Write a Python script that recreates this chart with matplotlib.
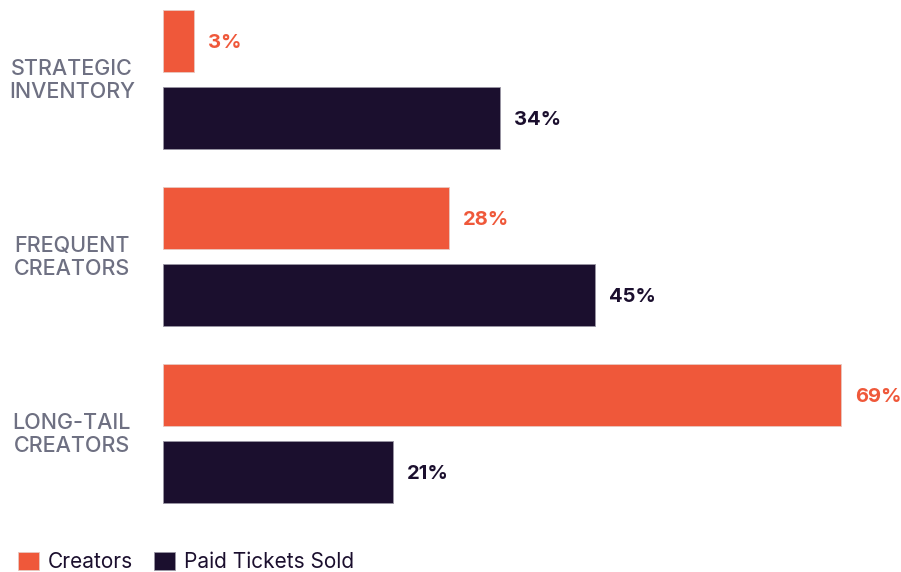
import matplotlib
matplotlib.use("Agg")
import matplotlib.pyplot as plt
import numpy as np

categories = ["STRATEGIC\nINVENTORY", "FREQUENT\nCREATORS", "LONG-TAIL\nCREATORS"]
creators = [3.15, 29.1, 69.0]
paid = [34.3, 43.9, 23.4]
creators_labels = ["3%", "28%", "69%"]
paid_labels = ["34%", "45%", "21%"]

ORANGE = "#EF583A"
DARK = "#1B0F2E"
GREY = "#6E7082"

plt.rcParams['font.family'] = ['Inter', 'DejaVu Sans']

W, H = 901, 572
fig = plt.figure(figsize=(W / 100, H / 100), dpi=100)
ax = fig.add_axes([163 / W, 52 / H, (W - 163) / W, 520 / H])

y = np.arange(len(categories))
off = 0.2175
h = 0.353
ax.barh(y - off, creators, height=h, color=ORANGE, edgecolor="#e8c8c0", linewidth=0.6, label="Creators")
ax.barh(y + off, paid, height=h, color=DARK, edgecolor="#9a96a4", linewidth=0.6, label="Paid Tickets Sold")

ax.set_xlim(0, 738 / 9.83)
ax.set_ylim(2.489, -0.449)
ax.axis("off")

for yi, v, lab in zip(y - off, creators, creators_labels):
    ax.annotate(lab, (v, yi), xytext=(14, -2), textcoords="offset pixels",
                va="center", ha="left", fontsize=14.5, fontweight="bold", color=ORANGE)
for yi, v, lab in zip(y + off, paid, paid_labels):
    ax.annotate(lab, (v, yi), xytext=(14, -2), textcoords="offset pixels",
                va="center", ha="left", fontsize=14.5, fontweight="bold", color=DARK)

for yi, cat in zip(y, categories):
    ax.annotate(cat, (0, yi), xytext=(-91, -1), textcoords="offset pixels",
                va="center", ha="center", multialignment="center",
                fontsize=15.5, fontweight="medium", color=GREY, linespacing=1.17,
                annotation_clip=False)

handles, labels = ax.get_legend_handles_labels()
leg = fig.legend(handles, labels, loc="lower left", bbox_to_anchor=(0.006, -0.022),
                 frameon=False, fontsize=15, handlelength=1.0, handleheight=1.0,
                 handletextpad=0.45, columnspacing=1.0, ncol=2, borderaxespad=0.2)
for t in leg.get_texts():
    t.set_color(DARK)

fig.savefig("out.png", dpi=100)
